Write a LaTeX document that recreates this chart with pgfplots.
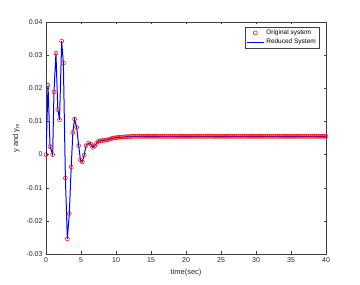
\documentclass[border=0pt]{standalone}
\usepackage{fontspec}
\setmainfont{Liberation Sans}
\usepackage{pgfplots}
\pgfplotsset{compat=1.18}
\usepackage{pgfplotstable}
\pgfplotstableread{
t y
0 0
0.29 0.0209
0.58 0.0024
0.95 0.0000
1.14 0.0189
1.42 0.0306
1.69 0.0136
1.93 0.0105
2.24 0.0342
2.48 0.0276
2.77 -0.0071
3.05 -0.0254
3.33 -0.0178
3.60 -0.0037
3.84 0.0067
4.08 0.0107
4.38 0.0082
4.67 0.0027
4.92 -0.0017
5.19 -0.0022
5.45 -0.0002
5.72 0.0027
6.111 0.0035
6.389 0.0031
6.667 0.0022
6.944 0.0026
7.222 0.0034
7.500 0.0040
7.778 0.0042
8.056 0.0042
8.333 0.0043
8.611 0.0044
8.889 0.0045
9.167 0.0047
9.444 0.0049
9.722 0.0050
10.000 0.0051
10.278 0.0052
10.556 0.0052
10.833 0.0053
11.111 0.0053
11.389 0.0054
11.667 0.0054
11.944 0.0054
12.222 0.0055
12.5 0.0055
12.778 0.0055
13.056 0.0055
13.333 0.0055
13.611 0.0055
13.889 0.0055
14.167 0.0055
14.444 0.0055
14.722 0.0055
15.0 0.0055
15.278 0.0055
15.556 0.0055
15.833 0.0055
16.111 0.0055
16.389 0.0055
16.667 0.0055
16.944 0.0055
17.222 0.0055
17.5 0.0055
17.778 0.0055
18.056 0.0055
18.333 0.0055
18.611 0.0055
18.889 0.0055
19.167 0.0055
19.444 0.0055
19.722 0.0055
20.0 0.0055
20.278 0.0055
20.556 0.0055
20.833 0.0055
21.111 0.0055
21.389 0.0055
21.667 0.0055
21.944 0.0055
22.222 0.0055
22.5 0.0055
22.778 0.0055
23.056 0.0055
23.333 0.0055
23.611 0.0055
23.889 0.0055
24.167 0.0055
24.444 0.0055
24.722 0.0055
25.0 0.0055
25.278 0.0055
25.556 0.0055
25.833 0.0055
26.111 0.0055
26.389 0.0055
26.667 0.0055
26.944 0.0055
27.222 0.0055
27.5 0.0055
27.778 0.0055
28.056 0.0055
28.333 0.0055
28.611 0.0055
28.889 0.0055
29.167 0.0055
29.444 0.0055
29.722 0.0055
30.0 0.0055
30.278 0.0055
30.556 0.0055
30.833 0.0055
31.111 0.0055
31.389 0.0055
31.667 0.0055
31.944 0.0055
32.222 0.0055
32.5 0.0055
32.778 0.0055
33.056 0.0055
33.333 0.0055
33.611 0.0055
33.889 0.0055
34.167 0.0055
34.444 0.0055
34.722 0.0055
35.0 0.0055
35.278 0.0055
35.556 0.0055
35.833 0.0055
36.111 0.0055
36.389 0.0055
36.667 0.0055
36.944 0.0055
37.222 0.0055
37.5 0.0055
37.778 0.0055
38.056 0.0055
38.333 0.0055
38.611 0.0055
38.889 0.0055
39.167 0.0055
39.444 0.0055
39.722 0.0055
40.0 0.0055
}\data
\begin{document}
\begin{tikzpicture}
\begin{axis}[
  scale only axis, width=280pt, height=232pt,
  xmin=0, xmax=40, ymin=-0.03, ymax=0.04,
  xtick={0,5,10,15,20,25,30,35,40},
  ytick={-0.03,-0.02,-0.01,0,0.01,0.02,0.03,0.04},
  scaled y ticks=false,
  yticklabel style={/pgf/number format/.cd,fixed,precision=2},
  /pgf/number format/assume math mode=true,
  tick align=inside, major tick length=2.5pt,
  axis line style={black!75, line width=0.4pt},
  every tick/.style={black!75, line width=0.4pt},
  tick label style={font=\fontsize{7}{8}\selectfont, text=black!85},
  label style={font=\fontsize{7.5}{9}\selectfont, text=black!85},
  xlabel={time(sec)}, ylabel={y and y\textsubscript{m}},
  legend style={at={(rel axis cs:0.975,0.98)}, anchor=north east,
    font=\fontsize{6.5}{7.5}\selectfont, draw=black!75, line width=0.4pt,
    inner sep=1pt, row sep=-1pt, cells={anchor=west}},
  legend cell align=left,
  legend image post style={},
]
\addplot[only marks, mark=o, mark size=2pt, red, mark options={line width=0.5pt}] table[x=t,y=y]{\data};
\addlegendentry{Original system}
\addplot[blue, line width=1pt, mark=none] table[x=t,y=y]{\data};
\addlegendentry{Reduced System}
\end{axis}
\path ([xshift=-46pt,yshift=-31pt]current axis.south west) rectangle ([xshift=34pt,yshift=22pt]current axis.north east);
\end{tikzpicture}
\end{document}
